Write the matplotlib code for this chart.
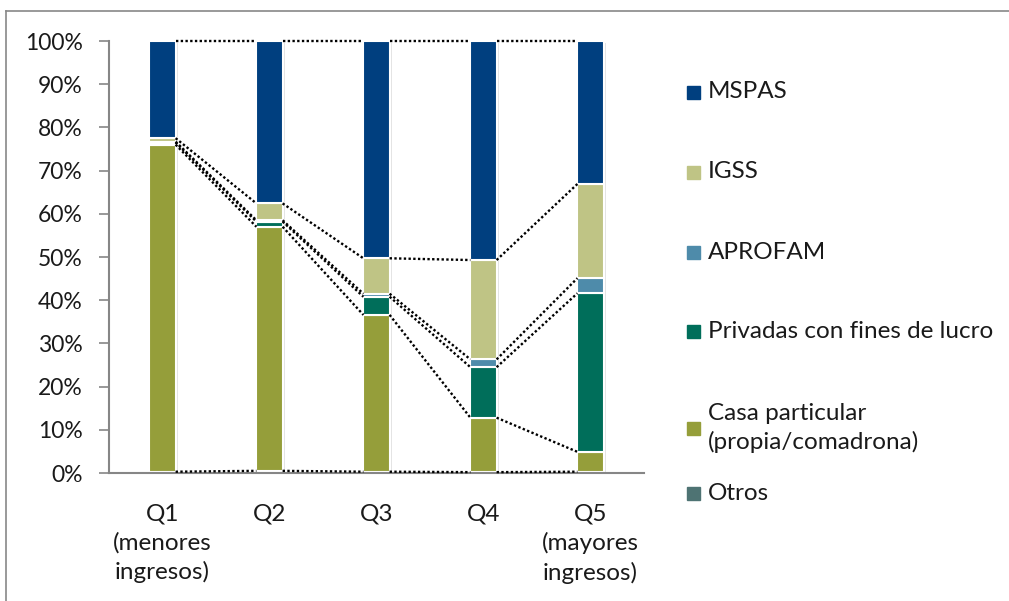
import matplotlib
matplotlib.use("Agg")
import matplotlib.pyplot as plt
from matplotlib.lines import Line2D
from matplotlib.patches import Rectangle
import numpy as np

plt.rcParams['font.family'] = ['Lato', 'DejaVu Sans']

categories = ["Q1\n(menores\ningresos)", "Q2", "Q3", "Q4", "Q5\n(mayores\ningresos)"]
# series from bottom to top
series_names = ["Otros", "Casa particular\n(propia/comadrona)", "Privadas con fines de lucro",
                "APROFAM", "IGSS", "MSPAS"]
otros    = [0.3, 0.5, 0.3, 0.2, 0.3]
casa     = [75.7, 56.5, 36.3, 12.6, 4.6]
privadas = [0.5, 1.2, 4.2, 11.7, 36.7]
aprofam  = [0.2, 0.3, 0.7, 1.8, 3.5]
igss     = [0.8, 3.9, 8.2, 23.0, 21.8]
mspas    = [22.5, 37.6, 50.3, 50.7, 33.1]
colors = ["#4E7373", "#959E3A", "#006E5A", "#4E8BAA", "#BFC485", "#003F7F"]

data = np.array([otros, casa, privadas, aprofam, igss, mspas])

fig = plt.figure(figsize=(10.09, 6.01), dpi=100)
ax = fig.add_axes([109/1009, 1-473/601, (644-109)/1009, (473-41)/601])

x = np.arange(len(categories))
w = 0.245
bottom = np.zeros(len(categories))
tops = []
# shadow
ax.bar(x + 0.012, data.sum(axis=0), width=w + 0.02, bottom=-0.4, color="#e3e3e3", zorder=1)
for vals, c in zip(data, colors):
    ax.bar(x, vals, width=w, bottom=bottom, color=c, edgecolor="white", linewidth=1.5, zorder=2)
    bottom = bottom + vals
    tops.append(bottom.copy())

# series lines
for t in tops:
    for i in range(len(categories) - 1):
        ax.plot([x[i] + w/2, x[i+1] - w/2], [t[i], t[i+1]], color="black",
                linestyle=(0, (1, 1)), linewidth=1.7, zorder=3, clip_on=False)

ax.set_xlim(-0.5, len(categories) - 0.5)
ax.set_ylim(0, 100)
ax.set_yticks(np.arange(0, 101, 10))
ax.set_yticklabels([f"{v}%" for v in range(0, 101, 10)])
ax.set_xticks(x)
ax.set_xticklabels(categories, linespacing=1.42)
ax.tick_params(axis='y', length=7, width=1.2, color="#868686", labelsize=16.5, pad=12, labelcolor="#1a1a1a")
ax.tick_params(axis='x', length=0, labelsize=17.5, pad=22, labelcolor="#1a1a1a")
for s in ["top", "right"]:
    ax.spines[s].set_visible(False)
for s in ["left", "bottom"]:
    ax.spines[s].set_color("#868686")
    ax.spines[s].set_linewidth(1.5)

# legend (manual, Excel-like spacing)
leg_y = [92, 172, 252, 332, 428, 493]
order = list(range(len(series_names)))[::-1]
for yy, idx in zip(leg_y, order):
    fy = 1 - yy/601
    fig.patches.append(Rectangle((687/1009, fy - 6.5/601), 13/1009, 13/601,
                                 transform=fig.transFigure, color=colors[idx]))
    fig.text(708/1009, fy, series_names[idx], fontsize=17.5, va="center", ha="left",
             color="#1a1a1a", linespacing=1.35)

# outer frame (top & left)
fig.add_artist(Line2D([6/1009, 1], [1-11/601, 1-11/601], transform=fig.transFigure, color="#888888", lw=1.2))
fig.add_artist(Line2D([6/1009, 6/1009], [0, 1-11/601], transform=fig.transFigure, color="#888888", lw=1.2))

fig.savefig("out.png", dpi=100)
